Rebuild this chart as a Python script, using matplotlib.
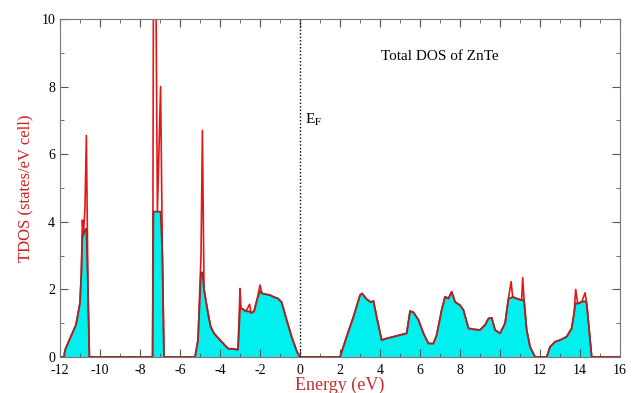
import matplotlib
matplotlib.use("Agg")
import matplotlib.pyplot as plt
from matplotlib.ticker import MultipleLocator

# energy (eV), total DOS (red line), and cyan fill level (spikes cut off)
energy = [-12.0, -11.8, -11.75, -11.5, -11.2, -11.0, -10.93, -10.88, -10.83, -10.75, -10.68, -10.6, -10.53,
          -7.4, -7.37, -7.33, -7.2, -7.13, -6.97, -6.88, -6.8,
          -5.25, -5.1, -4.95, -4.88, -4.8, -4.6, -4.47, -4.3, -4.0, -3.6, -3.1, -3.0, -2.95, -2.7,
          -2.52, -2.45, -2.3, -2.15, -2.0, -1.9, -1.5, -1.33, -1.1, -0.92, -0.67, -0.42, -0.15, 0.0,
          2.0, 2.33, 2.67, 3.0, 3.1, 3.33, 3.55, 3.67, 3.83, 4.08, 4.33, 4.67, 5.0, 5.33, 5.5, 5.67,
          5.92, 6.17, 6.42, 6.67, 6.83, 7.08, 7.25, 7.42, 7.58, 7.75, 8.0, 8.17, 8.42, 8.67, 9.0, 9.25,
          9.42, 9.58, 9.75, 10.0, 10.25, 10.42, 10.55, 10.63, 10.83, 11.08, 11.13, 11.2, 11.33, 11.5,
          11.75, 12.33, 12.5, 12.75, 13.0, 13.33, 13.58, 13.7, 13.78, 13.88, 14.08, 14.25, 14.33, 14.47,
          14.58, 16.0]
tdos = [0, 0, 0.2, 0.55, 0.95, 1.6, 2.5, 4.05, 3.6, 4.4, 6.55, 2.0, 0,
        0, 0, 10.5, 10.5, 4.3, 8.0, 3.0, 0,
        0, 0.5, 3.0, 6.7, 2.0, 1.3, 0.9, 0.7, 0.5, 0.25, 0.22, 2.03, 1.45, 1.35,
        1.56, 1.3, 1.35, 1.69, 2.13, 1.88, 1.83, 1.78, 1.73, 1.62, 1.1, 0.6, 0.15, 0,
        0, 0.6, 1.19, 1.83, 1.88, 1.71, 1.62, 1.66, 1.19, 0.5, 0.55, 0.6, 0.65, 0.7, 1.36, 1.32,
        1.1, 0.7, 0.4, 0.4, 0.65, 1.39, 1.78, 1.73, 1.93, 1.63, 1.53, 1.39, 0.85, 0.82, 0.8, 0.95,
        1.14, 1.16, 0.8, 0.7, 1.0, 1.73, 2.23, 1.78, 1.73, 1.68, 2.35, 1.68, 0.8, 0.3,
        0, 0, 0.3, 0.45, 0.5, 0.6, 0.85, 1.3, 2.0, 1.58, 1.63, 1.9, 1.58, 0.7,
        0, 0]
tdos_fill = [0, 0, 0.2, 0.55, 0.95, 1.6, 2.5, 3.6, 3.6, 3.75, 3.8, 2.0, 0,
             0, 0, 4.3, 4.3, 4.3, 4.3, 3.0, 0,
             0, 0.5, 2.5, 2.5, 2.0, 1.3, 0.9, 0.7, 0.5, 0.25, 0.22, 1.4, 1.45, 1.35,
             1.35, 1.3, 1.35, 1.69, 1.95, 1.88, 1.83, 1.78, 1.73, 1.62, 1.1, 0.6, 0.15, 0,
             0, 0.6, 1.19, 1.83, 1.88, 1.71, 1.62, 1.66, 1.19, 0.5, 0.55, 0.6, 0.65, 0.7, 1.36, 1.32,
             1.1, 0.7, 0.4, 0.4, 0.65, 1.39, 1.78, 1.73, 1.93, 1.63, 1.53, 1.39, 0.85, 0.82, 0.8, 0.95,
             1.14, 1.16, 0.8, 0.7, 1.0, 1.73, 1.75, 1.78, 1.73, 1.68, 1.68, 1.68, 0.8, 0.3,
             0, 0, 0.3, 0.45, 0.5, 0.6, 0.85, 1.3, 1.6, 1.58, 1.63, 1.65, 1.58, 0.7,
             0, 0]

plt.rcParams['font.family'] = 'Liberation Serif'
plt.rcParams['mathtext.fontset'] = 'stix'
plt.rcParams['axes.unicode_minus'] = False

fig = plt.figure(figsize=(6.36, 3.93), dpi=100)
ax = fig.add_axes([0.0943, 0.0916, 0.8807, 0.8601])

ax.fill_between(energy, tdos_fill, 0, color='#00f0f0', linewidth=0)
ax.plot(energy, tdos, color='#e01818', linewidth=1.2)
ax.plot(energy, tdos_fill, color='#9a2a2a', linewidth=1.3)
ax.plot([0, 0], [0, 10], color='black', linestyle=(0, (1, 1.5)), linewidth=1)

ax.set_xlim(-12, 16)
ax.set_ylim(0, 10)
ax.xaxis.set_major_locator(MultipleLocator(2))
ax.xaxis.set_minor_locator(MultipleLocator(1))
ax.yaxis.set_major_locator(MultipleLocator(2))
ax.yaxis.set_minor_locator(MultipleLocator(1))
ax.tick_params(which='both', direction='in', top=True, right=True, color='#555555', labelsize=10)
ax.tick_params(which='major', length=6)
ax.tick_params(which='minor', length=3)
ax.tick_params(axis='x', pad=5)
for s in ax.spines.values():
    s.set_color('#777777')

ax.set_xlabel("Energy (eV)", color='#c03030', fontsize=13, labelpad=0)
ax.set_ylabel("TDOS (states/eV cell)", color='#d02020', fontsize=12, labelpad=6)
ax.text(7.0, 8.9, "Total DOS of ZnTe", fontsize=11, ha='center', va='center')
ax.text(0.25, 7.0, "E$_\\mathrm{F}$", fontsize=11, ha='left', va='center')

fig.savefig("out.png", dpi=100)
